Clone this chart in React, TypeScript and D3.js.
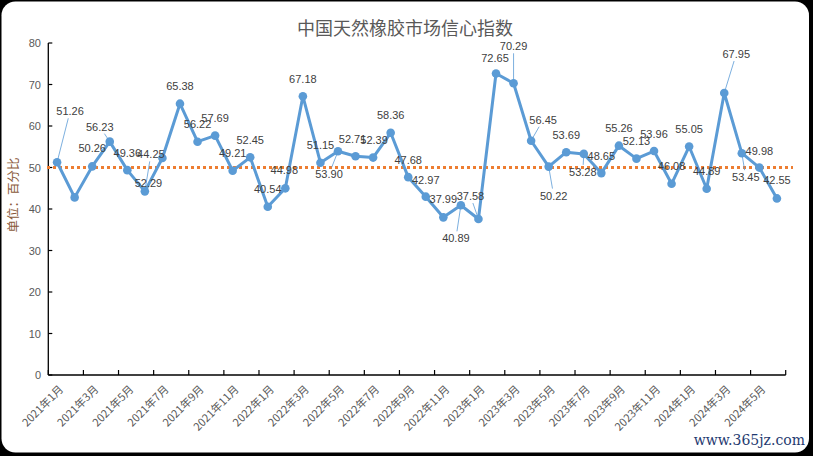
import React from 'react';
import * as d3 from 'd3';

const months: string[] = [
  '2021年1月', '2021年2月', '2021年3月', '2021年4月', '2021年5月', '2021年6月',
  '2021年7月', '2021年8月', '2021年9月', '2021年10月', '2021年11月', '2021年12月',
  '2022年1月', '2022年2月', '2022年3月', '2022年4月', '2022年5月', '2022年6月',
  '2022年7月', '2022年8月', '2022年9月', '2022年10月', '2022年11月', '2022年12月',
  '2023年1月', '2023年2月', '2023年3月', '2023年4月', '2023年5月', '2023年6月',
  '2023年7月', '2023年8月', '2023年9月', '2023年10月', '2023年11月', '2023年12月',
  '2024年1月', '2024年2月', '2024年3月', '2024年4月', '2024年5月', '2024年6月',
];

const values: number[] = [
  51.26, 42.8, 50.26, 56.23, 49.36, 44.25,
  52.29, 65.38, 56.22, 57.69, 49.21, 52.45,
  40.54, 44.98, 67.18, 51.15, 53.9, 52.71,
  52.39, 58.36, 47.68, 42.97, 37.99, 40.89,
  37.58, 72.65, 70.29, 56.45, 50.22, 53.69,
  53.28, 48.65, 55.26, 52.13, 53.96, 46.08,
  55.05, 44.89, 67.95, 53.45, 49.98, 42.55,
];

// whether each point shows a data label
const showLabel: boolean[] = values.map((_, i) => i !== 1);

const yTicks: number[] = [0, 10, 20, 30, 40, 50, 60, 70, 80];
const referenceValue = 50;

const title = '中国天然橡胶市场信心指数';
const yTitle = '单位：百分比';
const watermark = 'www.365jz.com';

// label layout: [dx, dy, leader] relative to point
const labelLayout: [number, number, boolean][] = [
  [13, -51, true], [0, -18, false], [0, -18, false], [-10, -15, true], [0, -17, false], [6, -37, true],
  [-14, 25, true], [0, -18, false], [0, -18, false], [0, -18, false], [0, -18, false], [0, -17, false],
  [0, -18, false], [-1, -18, false], [0, -17, false], [0, -18, false], [-9, 23, true], [-3, -17, false],
  [1, -18, false], [0, -18, false], [0, -17, false], [0, -17, false], [0, -18, false], [-5, 33, true],
  [-8, -23, true], [-1, -16, false], [0, -37, true], [12, -21, true], [5, 29, true], [0, -17, false],
  [-1, 18, true], [0, -17, false], [0, -18, false], [0, -18, false], [0, -17, false], [0, -18, false],
  [0, -18, false], [0, -18, false], [12, -39, true], [4, 24, true], [0, -17, false], [0, -18, false],
];

const W = 813;
const H = 456;
const LEFT = 48.3;
const RIGHT = 785.7;
const BOTTOM = 375;
const TOP = 43;

export default function App() {
  const x = d3.scaleBand<string>().domain(months).range([LEFT, RIGHT]).paddingInner(0).paddingOuter(0);
  const y = d3.scaleLinear().domain([0, 80]).range([BOTTOM, TOP]);
  const bw = x.bandwidth();
  const cx = (i: number) => (x(months[i]) as number) + bw / 2;

  const line = d3
    .line<number>()
    .x((_, i) => cx(i))
    .y((d) => y(d));

  const tickXs: number[] = [];
  for (let i = 0; i <= months.length; i += 2) {
    tickXs.push(i < months.length ? (x(months[i]) as number) : RIGHT);
  }

  const fontNum = '"Liberation Sans", Arial, sans-serif';
  const fontCJK = '"Noto Sans CJK SC", "Liberation Sans", sans-serif';

  const labels = values.map((v, i) => {
    if (!showLabel[i]) return null;
    const [dx, dy, leader] = labelLayout[i];
    const px = cx(i);
    const py = y(v);
    const lx = px + dx;
    const ly = py + dy;
    const text = v.toFixed(2);
    let leaderEl = null;
    if (leader) {
      const hw = (text.length * 6.1) / 2 + 1;
      const hh = 7;
      const vx = px - lx;
      const vy = py - ly;
      // clip segment from label center to point at label box
      const tx = vx !== 0 ? hw / Math.abs(vx) : Infinity;
      const ty = vy !== 0 ? hh / Math.abs(vy) : Infinity;
      const t = Math.min(tx, ty, 1);
      const sx = lx + vx * t;
      const sy = ly + vy * t;
      leaderEl = (
        <line x1={sx} y1={sy} x2={px} y2={py} stroke="#5B9BD5" strokeWidth={0.8} />
      );
    }
    return (
      <g key={i}>
        {leaderEl}
        <text
          x={lx}
          y={ly}
          textAnchor="middle"
          dominantBaseline="central"
          fontFamily={fontNum}
          fontSize={11}
          fill="#404040"
        >
          {text}
        </text>
      </g>
    );
  });

  return (
    <svg
      width={W}
      height={H}
      style={{ position: 'absolute', left: 0, top: 0, display: 'block' }}
    >
      <rect x={0} y={0} width={W} height={H} fill="#000" />
      <rect x={1.5} y={1.5} width={W - 5.5} height={H - 5} rx={14} ry={14} fill="#fff" />

      <text
        x={405}
        y={35}
        textAnchor="middle"
        fontFamily={fontCJK}
        fontSize={18}
        fill="#595959"
      >
        {title}
      </text>

      <text
        transform={`translate(18,195) rotate(-90)`}
        textAnchor="middle"
        fontFamily={fontCJK}
        fontSize={12.5}
        fill="#8a5a3a"
      >
        {yTitle}
      </text>

      {/* y axis */}
      <line x1={LEFT} y1={TOP} x2={LEFT} y2={BOTTOM} stroke="#000" strokeWidth={1.3} />
      {yTicks.map((t) => (
        <g key={t}>
          <line x1={LEFT} y1={y(t)} x2={LEFT + 4} y2={y(t)} stroke="#000" strokeWidth={1.2} />
          <text
            x={41}
            y={y(t)}
            textAnchor="end"
            dominantBaseline="central"
            fontFamily={fontNum}
            fontSize={11}
            fill="#595959"
          >
            {t}
          </text>
        </g>
      ))}

      {/* x axis */}
      <line x1={LEFT} y1={BOTTOM} x2={RIGHT} y2={BOTTOM} stroke="#000" strokeWidth={1.3} />
      {tickXs.map((tx, i) => (
        <line key={i} x1={tx} y1={BOTTOM} x2={tx} y2={BOTTOM - 5} stroke="#000" strokeWidth={1.2} />
      ))}
      {months.map((m, i) =>
        i % 2 === 0 ? (
          <text
            key={m}
            transform={`translate(${cx(i) + 7},${390}) rotate(-45)`}
            textAnchor="end"
            fontFamily={fontCJK}
            fontSize={11}
            fill="#595959"
          >
            {m}
          </text>
        ) : null
      )}

      {/* reference line */}
      <line
        x1={47}
        y1={y(referenceValue)}
        x2={793}
        y2={y(referenceValue)}
        stroke="#ED7D31"
        strokeWidth={3}
        strokeDasharray="3 3"
      />

      {/* series */}
      <path d={line(values) || ''} fill="none" stroke="#5B9BD5" strokeWidth={3} strokeLinejoin="round" />
      {values.map((v, i) => (
        <circle key={i} cx={cx(i)} cy={y(v)} r={4.3} fill="#5B9BD5" />
      ))}

      {labels}

      <text
        x={805}
        y={445}
        textAnchor="end"
        fontFamily='"DejaVu Serif", serif'
        fontSize={14}
        fill="#1f3a70"
      >
        {watermark}
      </text>
    </svg>
  );
}
